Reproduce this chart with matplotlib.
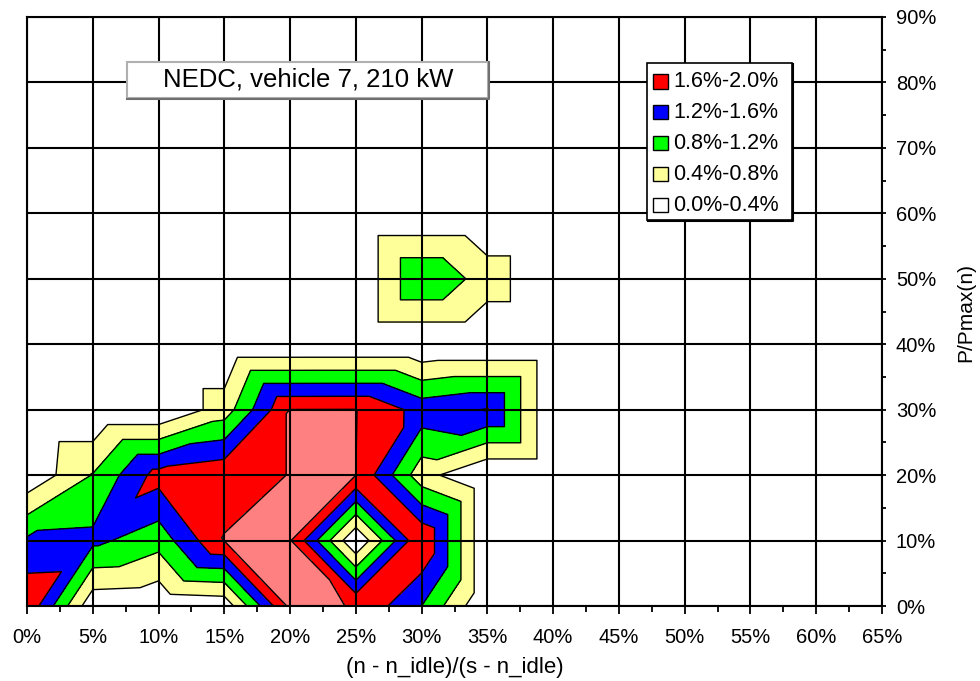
import numpy as np
import matplotlib
matplotlib.use("Agg")
import matplotlib.pyplot as plt
import matplotlib.tri as mtri
from matplotlib.patches import Rectangle
from matplotlib.lines import Line2D

plt.rcParams['font.family'] = ['Liberation Sans', 'DejaVu Sans']

# ---------------- data (share of time in %) ----------------
x_pct = [0, 5, 10, 15, 20, 25, 30, 35, 40, 45, 50, 55, 60, 65]   # (n - n_idle)/(s - n_idle) in %
y_pct = [0, 10, 20, 30, 40, 50, 60, 70, 80, 90]                  # P/Pmax(n) in %

share_p0  = [1.93, 0.10, 0.05, 0.12, 2.10, 1.98, 1.20, 0.00, 0, 0, 0, 0, 0, 0]
share_p10 = [1.27, 1.30, 0.96, 2.01, 2.03, 0.00, 1.99, 0.00, 0, 0, 0, 0, 0, 0]
share_p20 = [0.07, 0.82, 1.76, 1.92, 2.005, 2.00, 0.55, 0.00, 0, 0, 0, 0, 0, 0]
share_p30 = [0.00, 0.00, 0.00, 0.59, 2.005, 2.01, 1.45, 1.62, 0, 0, 0, 0, 0, 0]
share_p40 = [0.00, 0.00, 0.00, 0.00, 0.00, 0.00, 0.00, 0.00, 0, 0, 0, 0, 0, 0]
share_p50 = [0.00, 0.00, 0.00, 0.00, 0.00, 0.00, 1.18, 0.615, 0, 0, 0, 0, 0, 0]
share_p60 = [0] * 14
share_p70 = [0] * 14
share_p80 = [0] * 14
share_p90 = [0] * 14

levels = [0.0, 0.4, 0.8, 1.2, 1.6, 2.0, 2.4]
band_colors = ['#FFFFFF', '#FFFF99', '#00FF00', '#0000FF', '#FF0000', '#FF8080']
legend_labels = ['1.6%-2.0%', '1.2%-1.6%', '0.8%-1.2%', '0.4%-0.8%', '0.0%-0.4%']
title_text = 'NEDC, vehicle 7, 210 kW'
x_label = '(n - n_idle)/(s - n_idle)'
y_label = 'P/Pmax(n)'

# ---------------- build triangulated surface (2 triangles per cell) ----------------
Z = np.array([share_p0, share_p10, share_p20, share_p30, share_p40,
              share_p50, share_p60, share_p70, share_p80, share_p90], dtype=float)
X, Y = np.meshgrid(np.array(x_pct, float), np.array(y_pct, float))
nx, ny = len(x_pct), len(y_pct)
zf = Z.ravel()


def idx(i, j):
    return j * nx + i


tris = []
for j in range(ny - 1):
    for i in range(nx - 1):
        bl, br, tl, tr = idx(i, j), idx(i + 1, j), idx(i, j + 1), idx(i + 1, j + 1)
        if zf[bl] + zf[tr] >= zf[br] + zf[tl]:
            tris.append([bl, br, tr]); tris.append([bl, tr, tl])
        else:
            tris.append([bl, br, tl]); tris.append([br, tr, tl])
tri = mtri.Triangulation(X.ravel(), Y.ravel(), np.array(tris))

# ---------------- figure ----------------
W, H = 980, 681
fig = plt.figure(figsize=(W / 100, H / 100), dpi=100)
fig.patch.set_facecolor('white')
ax = fig.add_axes([27 / W, 75 / H, 855 / W, 589 / H])

ax.tricontourf(tri, zf, levels=levels, colors=band_colors, zorder=1)
ax.tricontour(tri, zf, levels=levels[1:-1], colors='black', linewidths=1.0, zorder=2)

ax.set_xlim(0, 65)
ax.set_ylim(0, 90)

ax.set_xticks(np.arange(0, 66, 5))
ax.set_xticklabels([f'{int(v)}%' for v in np.arange(0, 66, 5)])
ax.set_xticks(np.arange(0, 65.1, 2.5), minor=True)
ax.set_yticks(np.arange(0, 91, 10))
ax.set_yticklabels([f'{int(v)}%' for v in np.arange(0, 91, 10)])
ax.set_yticks(np.arange(0, 90.1, 5), minor=True)

ax.yaxis.tick_right()
ax.tick_params(axis='x', which='major', direction='out', length=6, width=1.3,
               pad=10, labelsize=14.5, colors='black')
ax.tick_params(axis='x', which='minor', direction='out', length=4, width=1.3)
ax.tick_params(axis='y', which='both', direction='out', length=3, width=1.3,
               left=False, right=True, labelleft=False, labelright=True)
ax.tick_params(axis='y', which='major', pad=7, labelsize=14.5)

ax.grid(True, which='major', color='black', linewidth=1.5)
ax.set_axisbelow(False)
for s in ax.spines.values():
    s.set_color('black')
    s.set_linewidth(1.5)

fig.text(454.5 / W, 1 - 668 / H, x_label, ha='center', va='center', fontsize=16)
fig.text(966 / W, 1 - 312 / H, y_label, ha='center', va='center', rotation=90, fontsize=15)


def fx(px):
    return px / W


def fy(py):
    return 1 - py / H


# title box
fig.patches.append(Rectangle((fx(127), fy(98)), fx(488) - fx(127), fy(62) - fy(98),
                             transform=fig.transFigure, facecolor='white',
                             edgecolor='#b0b0b0', linewidth=1.5, zorder=5))
fig.lines.append(Line2D([fx(127), fx(489), fx(489)], [fy(99), fy(99), fy(62)],
                        transform=fig.transFigure, color='#707070', linewidth=1.5, zorder=6))
fig.text(fx(308), fy(80), title_text, ha='center', va='center', fontsize=18.5, zorder=7)

# legend box
fig.patches.append(Rectangle((fx(647), fy(220)), fx(792) - fx(647), fy(63) - fy(220),
                             transform=fig.transFigure, facecolor='white',
                             edgecolor='black', linewidth=1.2, zorder=5))
fig.lines.append(Line2D([fx(648), fx(793), fx(793)], [fy(221), fy(221), fy(64)],
                        transform=fig.transFigure, color='black', linewidth=1.5, zorder=6))
leg_cols = band_colors[4:0:-1] + [band_colors[0]]
for k, (lab, col) in enumerate(zip(legend_labels, leg_cols)):
    yc = 81.5 + 30.9 * k
    fig.patches.append(Rectangle((fx(653), fy(yc + 7)), fx(668) - fx(653), fy(yc - 7) - fy(yc + 7),
                                 transform=fig.transFigure, facecolor=col,
                                 edgecolor='black', linewidth=1.0, zorder=7))
    fig.text(fx(673), fy(yc), lab, ha='left', va='center', fontsize=15.5, zorder=7)

fig.savefig('out.png', dpi=100)
